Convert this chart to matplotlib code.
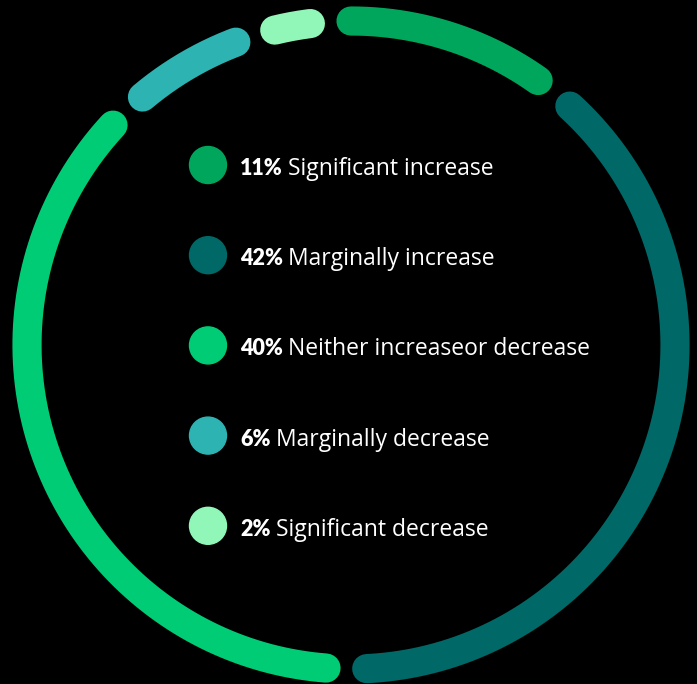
import numpy as np
import matplotlib.pyplot as plt

# survey shares, clockwise from the top of the ring
labels = ['Significant increase', 'Marginally increase', 'Neither increaseor decrease',
          'Marginally decrease', 'Significant decrease']
values = [11, 42, 40, 6, 2]
colors = ['#00a65c', '#006866', '#00cc75', '#2db3b2', '#90f7b8']

W, H = 697, 684
fig = plt.figure(figsize=(W / 100, H / 100), dpi=100, facecolor='black')
ax = fig.add_axes([0, 0, 1, 1])
ax.set_xlim(0, W)
ax.set_ylim(H, 0)
ax.set_facecolor('black')
ax.axis('off')

cx, cy, r = 351, 345, 324
gap = 7.2
span_total = 360 - gap * len(values)
start = 90.0
for v, c in zip(values, colors):
    span = v / sum(values) * span_total
    th = np.radians(np.linspace(start, start - span, 200))
    ax.plot(cx + r * np.cos(th), cy - r * np.sin(th), color=c, lw=21,
            solid_capstyle='round')
    start -= span + gap

# legend inside the ring
fig.canvas.draw()
rend = fig.canvas.get_renderer()
for i, (lab, v, c) in enumerate(zip(labels, values, colors)):
    y = 165 + i * 90.2
    ax.add_patch(plt.Circle((208, y), 18.5, color=c))
    t = ax.text(240, y + 10, f'{v}%', color='white', fontsize=15.5,
                fontweight='heavy', family='Lato', va='baseline')
    bb = t.get_window_extent(renderer=rend)
    x_end = ax.transData.inverted().transform((bb.x1, bb.y0))[0]
    ax.text(x_end + 5, y + 10, lab, color='white', fontsize=16.5,
            family='Open Sans', va='baseline')

fig.savefig('out.png', dpi=100, facecolor='black')
